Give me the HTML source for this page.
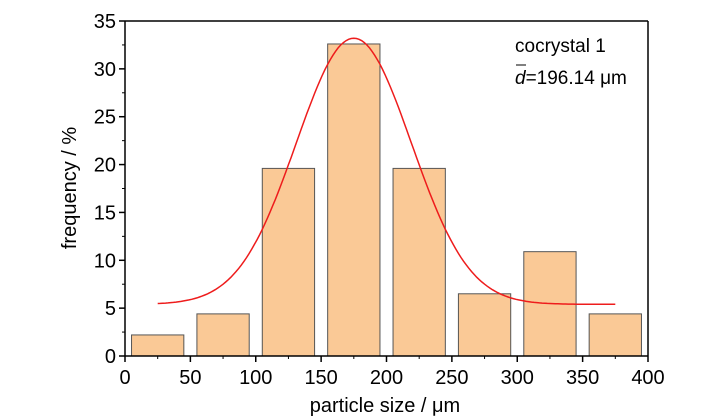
<!DOCTYPE html>
<html><head><meta charset="utf-8"><style>
body{margin:0;background:#fff;}
svg{display:block;font-family:"Liberation Sans",sans-serif;}
</style></head><body>
<svg id="chart" width="728" height="416">
<g id="bars"></g>
<path id="fit" fill="none" stroke="#ee1c1c" stroke-width="1.5"/>
<g id="axes"></g>
<text x="515" y="52" font-size="19">cocrystal 1</text>
<text x="515" y="84" font-size="19"><tspan font-style="italic">d</tspan>=196.14 μm</text>
<line x1="516" y1="65" x2="526" y2="65" stroke="#000" stroke-width="1"/>
<text x="385" y="412" font-size="20" text-anchor="middle">particle size / μm</text>
<text transform="translate(76,188) rotate(-90)" font-size="20" text-anchor="middle">frequency / %</text>
</svg>
<script>
const binCenters=[25,75,125,175,225,275,325,375];
const freqs=[2.2,4.4,19.6,32.6,19.6,6.5,10.9,4.4];
const xTicks=[0,50,100,150,200,250,300,350,400];
const yTicks=[0,5,10,15,20,25,30,35];
const fitCenter=175, fitWidth=44, fitBase=5.4, fitAmp=27.8, fitStart=25, fitEnd=375;
const X0=125,X1=648,Y0=356,Y1=21;
const sx=v=>X0+(v)/400*(X1-X0);
const sy=v=>Y0-(v)/35*(Y0-Y1);
const NS="http://www.w3.org/2000/svg";
const bars=document.getElementById('bars');
binCenters.forEach((c,i)=>{
  const r=document.createElementNS(NS,'rect');
  
  
  r.setAttribute('x',sx(c-20));r.setAttribute('width',sx(c+20)-sx(c-20));
  r.setAttribute('y',sy(freqs[i]));r.setAttribute('height',sy(0)-sy(freqs[i]));
  r.setAttribute('fill','#fac996');r.setAttribute('stroke','#555');r.setAttribute('stroke-width','1');
  bars.appendChild(r);
});
let d='';
for(let x=fitStart;x<=fitEnd;x+=2){
  const y=fitBase+fitAmp*Math.exp(-Math.pow(x-fitCenter,2)/(2*fitWidth*fitWidth));
  d+=(d?'L':'M')+sx(x).toFixed(1)+','+sy(y).toFixed(1);
}
document.getElementById('fit').setAttribute('d',d);
const ax=document.getElementById('axes');
function line(x1,y1,x2,y2,w,name){const l=document.createElementNS(NS,'line');


l.setAttribute('x1',x1);l.setAttribute('y1',y1);l.setAttribute('x2',x2);l.setAttribute('y2',y2);
l.setAttribute('stroke','#000');l.setAttribute('stroke-width',w);ax.appendChild(l);}
function text(x,y,s,anchor,name){const t=document.createElementNS(NS,'text');


t.setAttribute('x',x);t.setAttribute('y',y);t.setAttribute('font-size','20');t.setAttribute('text-anchor',anchor);t.textContent=s;ax.appendChild(t);}
line(X0,Y0,X1,Y0,1.5,'x-axis');line(X0,Y0,X0,Y1,1.5,'y-axis');
line(X0,Y1,X1,Y1,1.5,'top-frame');line(X1,Y0,X1,Y1,1.5,'right-frame');
xTicks.forEach((v,i)=>{line(sx(v),Y0,sx(v),Y0+6,1.5,'x-tick');text(sx(v),Y0+28,v,'middle','x-tick-label');
 if(i<xTicks.length-1){const m=(v+xTicks[i+1])/2;line(sx(m),Y0,sx(m),Y0+3,1,'x-minor-tick');}});
yTicks.forEach((v,i)=>{line(X0,sy(v),X0-6,sy(v),1.5,'y-tick');text(X0-9,sy(v)+7,v,'end','y-tick-label');
 if(i<yTicks.length-1){const m=(v+yTicks[i+1])/2;line(X0,sy(m),X0-3,sy(m),1,'y-minor-tick');}});
</script>
</body></html>
